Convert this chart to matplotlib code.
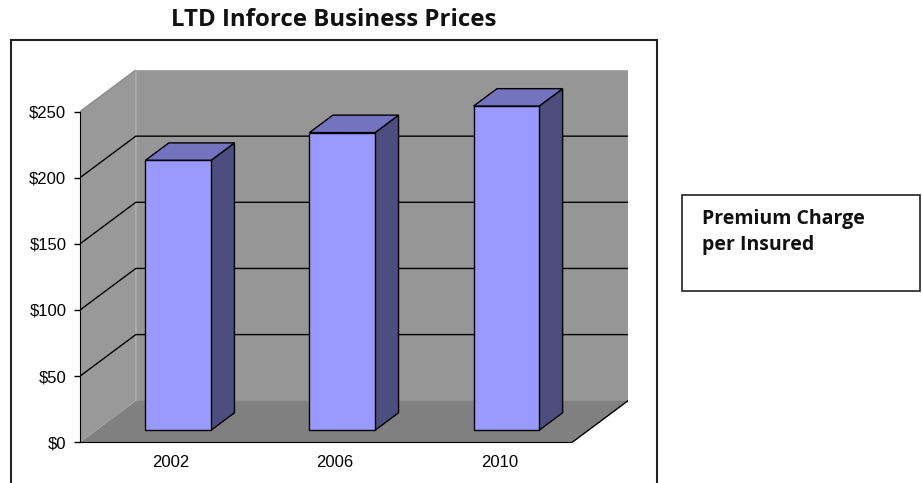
import numpy as np
import matplotlib
matplotlib.use("Agg")
import matplotlib.pyplot as plt
from matplotlib.patches import Polygon, Rectangle

# premium charge per insured, by year
years = ['2002', '2006', '2010']
premium = [204, 225, 245]
yticks = [0, 50, 100, 150, 200, 250]
title = 'LTD Inforce Business Prices'
legend_text = 'Premium Charge\nper Insured'

# pseudo 3d: depth offset of the back wall, in data units (categories, dollars)
DX = 0.34
DY = 31.4
F0, F1 = 0.29, 0.71     # front and back of the bars, as fraction of depth
HALF = 0.2              # half bar width (gap width 150%)

c_front = '#9999ff'
c_top = '#7373bf'
c_side = '#4d4d80'
c_wall = '#969696'
c_floor = '#808080'

W, H = 922, 483
fig = plt.figure(figsize=(W / 100, H / 100), dpi=100)
ax = fig.add_axes([80 / W, (H - 442.3) / H, 548 / W, 372.3 / H])
ax.set_xlim(0, len(years) + DX)
ax.set_ylim(0, yticks[-1] + DY)
ax.patch.set_visible(False)

top = yticks[-1]
n = len(years)

# walls and floor
ax.add_patch(Polygon([(0, 0), (DX, DY), (DX, top + DY), (0, top)],
                     closed=True, fc='#999999', ec='none', zorder=1))
ax.add_patch(Rectangle((DX, DY), n, top, fc=c_wall, ec='#a8a8a8', lw=1, zorder=1))
ax.add_patch(Polygon([(0, 0), (n, 0), (n + DX, DY), (DX, DY)],
                     closed=True, fc=c_floor, ec='none', zorder=1))
ax.plot([0, DX], [0, DY], color='#a0a0a0', lw=1, ls=':', zorder=1.5)
ax.plot([n, n + DX], [0, DY], color='black', lw=1, zorder=1.5)
ax.plot([0, DX], [top, top + DY], color='#8c8c8c', lw=1, zorder=1.5)

# gridlines on the side and back walls
for t in yticks[1:-1]:
    ax.plot([0, DX, n + DX], [t, t + DY, t + DY], color='black', lw=1, zorder=2)

# bars
for i, v in enumerate(premium):
    x0 = i + 0.5 - HALF + F0 * DX
    x1 = i + 0.5 + HALF + F0 * DX
    y0 = F0 * DY
    ex = (F1 - F0) * DX
    ey = (F1 - F0) * DY
    front = [(x0, y0), (x1, y0), (x1, y0 + v), (x0, y0 + v)]
    side = [(x1, y0), (x1 + ex, y0 + ey), (x1 + ex, y0 + ey + v), (x1, y0 + v)]
    cap = [(x0, y0 + v), (x1, y0 + v), (x1 + ex, y0 + ey + v), (x0 + ex, y0 + ey + v)]
    for pts, col in [(side, c_side), (cap, c_top), (front, c_front)]:
        ax.add_patch(Polygon(pts, closed=True, fc=col, ec='black', lw=1,
                             joinstyle='miter', zorder=3))

# axes
for s in ['top', 'right']:
    ax.spines[s].set_visible(False)
ax.spines['left'].set_bounds(0, top)
ax.spines['bottom'].set_bounds(0, n)
ax.spines['left'].set_zorder(2.5)
ax.spines['bottom'].set_zorder(2.5)
ax.set_yticks(yticks)
ax.set_yticklabels(['$%d' % t for t in yticks], fontsize=12, family='Liberation Sans')
ax.tick_params(axis='y', direction='out', length=4.3, width=1, pad=5.5)
ax.set_xticks(np.arange(n) + 0.5 + 0.055)
ax.set_xticklabels(years, fontsize=12, family='Liberation Sans')
ax.tick_params(axis='x', length=0, pad=9)

# outer chart frame, runs off the bottom of the image
fig.add_artist(Rectangle((11 / W, -0.1), (657 - 11) / W, 0.1 + (H - 40) / H,
                         transform=fig.transFigure, fill=False, ec='#222222', lw=1.5))

fig.text(334 / W, 1 - 19.5 / H, title, ha='center', va='center',
         fontsize=17.3, fontweight='bold', family='Open Sans', color='#111111')

# legend box
fig.add_artist(Rectangle((681.7 / W, 1 - 290.7 / H), (920 - 681.7) / W, (290.7 - 195) / H,
                         transform=fig.transFigure, fill=False, ec='#222222', lw=1.2))
fig.text(702 / W, 1 - 232 / H, legend_text, ha='left', va='center', linespacing=1.4,
         fontsize=14, fontweight='bold', family='Open Sans', color='#111111')

fig.savefig('out.png', dpi=100)
